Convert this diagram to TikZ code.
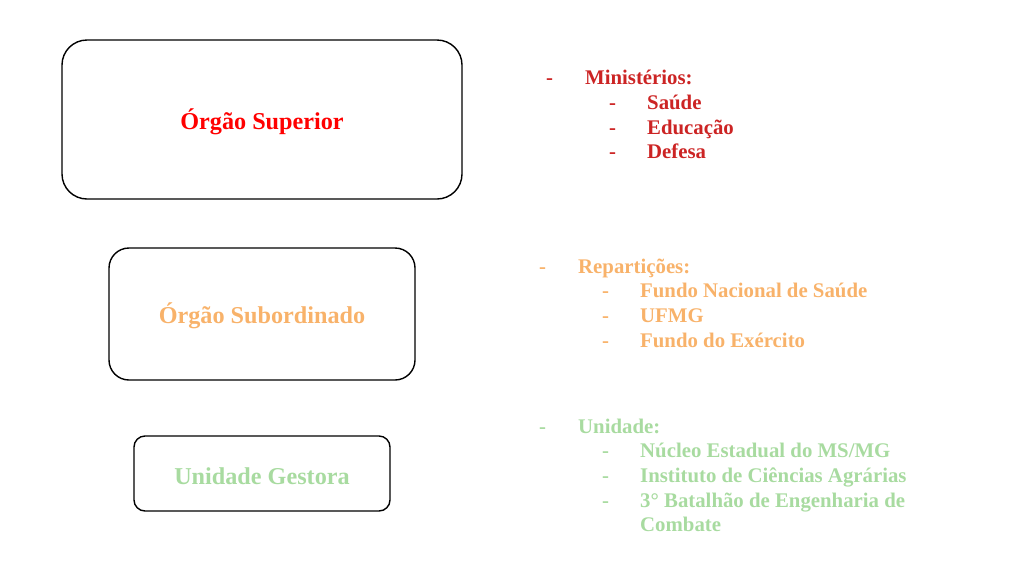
\documentclass[tikz,border=0pt]{standalone}
\usepackage{fontspec}
\setmainfont{Liberation Serif}
\definecolor{topred}{RGB}{255,0,0}
\definecolor{listred}{RGB}{204,36,36}
\definecolor{orangec}{RGB}{248,178,106}
\definecolor{greenc}{RGB}{168,219,160}
\begin{document}
\begin{tikzpicture}[x=1pt,y=-1pt,
  box/.style={draw=black,line width=1.4pt,inner sep=0pt},
  title/.style={font=\fontsize{24.2}{28}\selectfont\bfseries},
  item/.style={font=\fontsize{20.8}{25}\selectfont\bfseries,anchor=base west,inner sep=0pt}]
\useasboundingbox (0,0) rectangle (1017,571);
% boxes
\draw[box,rounded corners=25pt] (62,40) rectangle (462,199);
\draw[box,rounded corners=20pt] (109,248) rectangle (415,380);
\draw[box,rounded corners=11pt] (134,436) rectangle (390,511);
\node[title,text=topred] (t1) at (262,122) {Órgão Superior};
\node[title,text=orangec] (t2) at (262,316) {Órgão Subordinado};
\node[title,text=greenc] (t3) at (262,476) {Unidade Gestora};
% red list
\begin{scope}[every node/.append style={item,text=listred}]
\node (r0d) at (546,84) {-};
\node (r0) at (585,84) {Ministérios:};
\node (r1d) at (609,109) {-};
\node (r1) at (647,109) {Saúde};
\node (r2d) at (609,134) {-};
\node (r2) at (647,134) {Educação};
\node (r3d) at (609,158) {-};
\node (r3) at (647,158) {Defesa};
\end{scope}
% orange list
\begin{scope}[every node/.append style={item,text=orangec}]
\node (o0d) at (539,273) {-};
\node (o0) at (578,273) {Repartições:};
\node (o1d) at (602,297) {-};
\node (o1) at (640,297) {Fundo Nacional de Saúde};
\node (o2d) at (602,322) {-};
\node (o2) at (640,322) {UFMG};
\node (o3d) at (602,347) {-};
\node (o3) at (640,347) {Fundo do Exército};
\end{scope}
% green list
\begin{scope}[every node/.append style={item,text=greenc}]
\node (g0d) at (539,433) {-};
\node (g0) at (578,433) {Unidade:};
\node (g1d) at (602,457) {-};
\node (g1) at (640,457) {Núcleo Estadual do MS/MG};
\node (g2d) at (602,482) {-};
\node (g2) at (640,482) {Instituto de Ciências Agrárias};
\node (g3d) at (602,507) {-};
\node (g3) at (640,507) {3° Batalhão de Engenharia de};
\node (g4) at (640,531) {Combate};
\end{scope}
\end{tikzpicture}
\end{document}
